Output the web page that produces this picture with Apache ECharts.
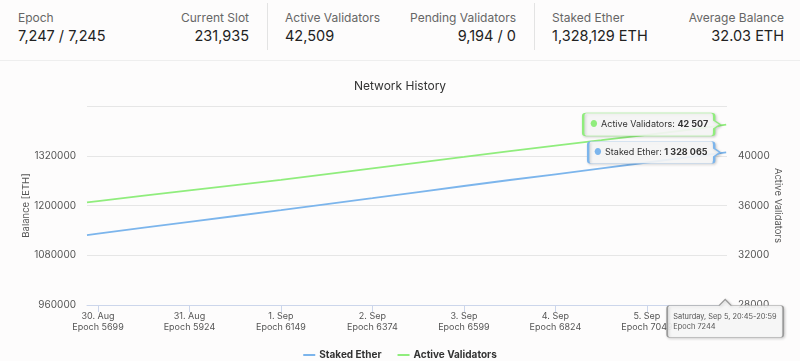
<!DOCTYPE html>
<html>
<head>
<meta charset="utf-8">
<script src="https://cdn.jsdelivr.net/npm/echarts@6/dist/echarts.min.js"></script>
<style>
  html, body { margin: 0; padding: 0; background: #fdfcfc; }
  #wrap { position: relative; width: 800px; height: 361px; overflow: hidden; font-family: Inter, "Noto Sans", sans-serif; }
  #chart { position: absolute; left: 0; top: 0; width: 800px; height: 361px; }
  #header { position: absolute; left: 0; top: 0; width: 800px; height: 60px; border-bottom: 1px solid #eeeeee; background: #fdfcfc; z-index: 2; }
  .stat { position: absolute; top: 10px; }
  .stat .lbl { font-size: 12px; color: #666; line-height: 16px; }
  .stat .val { font-size: 14.5px; color: #222; line-height: 20px; margin-top: 0px; }
  .r { text-align: right; }
  .sep { position: absolute; top: 3px; width: 1px; height: 47px; background: #e3e3e3; }
</style>
</head>
<body>
<div id="wrap">
  <div id="chart"></div>
  <div id="header"></div>
</div>
<script>
// ---- header stats ----
const statLabels = ['Epoch', 'Current Slot', 'Active Validators', 'Pending Validators', 'Staked Ether', 'Average Balance'];
const statValues = ['7,247 / 7,245', '231,935', '42,509', '9,194 / 0', '1,328,129 ETH', '32.03 ETH'];

// ---- chart data ----
const chartTitle = 'Network History';
const epochs = [5672, 5699, 5812, 5924, 6037, 6149, 6262, 6374, 6487, 6599, 6712, 6824, 6937, 7049, 7162, 7244];
const stakedEther = [1128800, 1132200, 1146400, 1160400, 1174700, 1188900, 1203400, 1217600, 1232300, 1247000, 1261500, 1275300, 1289500, 1303700, 1317700, 1328065];
const activeValidators = [36250, 36360, 36790, 37210, 37640, 38060, 38520, 38980, 39450, 39910, 40380, 40820, 41250, 41680, 42120, 42507];
const dayEpochs = [5699, 5924, 6149, 6374, 6599, 6824, 7049];
const dayLabels = ['30. Aug', '31. Aug', '1. Sep', '2. Sep', '3. Sep', '4. Sep', '5. Sep'];
const seriesNames = ['Staked Ether', 'Active Validators'];
const axisNames = ['Balance [ETH]', 'Active Validators'];
const tooltipEpoch = 7244;
const tooltipTime = 'Saturday, Sep 5, 20:45-20:59';
const tooltipValueText = ['1 328 065', '42 507'];

// build header
(function () {
  const h = document.getElementById('header');
  const cols = [
    { x: 18, align: 'l' }, { x: 249, align: 'r' },
    { x: 285, align: 'l' }, { x: 516, align: 'r' },
    { x: 552, align: 'l' }, { x: 784, align: 'r' }
  ];
  cols.forEach((c, i) => {
    const d = document.createElement('div');
    d.className = 'stat' + (c.align === 'r' ? ' r' : '');
    if (c.align === 'r') d.style.right = (800 - c.x) + 'px'; else d.style.left = c.x + 'px';
    d.innerHTML = '<div class="lbl">' + statLabels[i] + '</div><div class="val">' + statValues[i] + '</div>';
    h.appendChild(d);
  });
  [267, 534].forEach(x => {
    const s = document.createElement('div');
    s.className = 'sep';
    s.style.left = x + 'px';
    h.appendChild(s);
  });
})();

const blue = '#7cb5ec';
const green = '#90ed7d';
const font = 'Inter, "Noto Sans", sans-serif';

const chart = echarts.init(document.getElementById('chart'), null, { renderer: 'canvas' });

function callout(w, h, p) {
  const bw = w - p, m = h / 2;
  return 'path://M3,0 H' + (bw - 3) + ' Q' + bw + ',0 ' + bw + ',3 V' + (m - 4) +
    ' L' + w + ',' + m + ' L' + bw + ',' + (m + 4) + ' V' + (h - 3) +
    ' Q' + bw + ',' + h + ' ' + (bw - 3) + ',' + h + ' H3 Q0,' + h + ' 0,' + (h - 3) +
    ' V3 Q0,0 3,0 Z';
}
const headerPath = 'path://M3,6 H52 L58,0 L64,6 H113 Q116,6 116,9 V35 Q116,38 113,38 H3 Q0,38 0,35 V9 Q0,6 3,6 Z';

const tipShadow = { shadowBlur: 3, shadowColor: 'rgba(0,0,0,0.18)', shadowOffsetX: 1, shadowOffsetY: 1 };

function pointLabel(name, valText, color, px) {
  return {
    show: true,
    position: [px, 11.5],
    align: 'left',
    verticalAlign: 'middle',
    formatter: '{d|●} {n|' + name + ': }{b|' + valText + '}',
    rich: {
      d: { color: color, fontSize: 8.5, fontFamily: font },
      n: { color: '#333', fontSize: 9, fontFamily: font },
      b: { color: '#333', fontSize: 9, fontWeight: 'bold', fontFamily: font }
    }
  };
}

const lastIdx = epochs.indexOf(tooltipEpoch);
const plainNum = v => String(v);

chart.setOption({
  animation: false,
  backgroundColor: '#fdfcfc',
  title: {
    text: chartTitle,
    left: 'center',
    top: 75,
    textStyle: { fontFamily: font, fontSize: 12, fontWeight: 'normal', color: '#333' }
  },
  legend: {
    top: 345,
    left: 'center',
    itemGap: 16,
    itemWidth: 12,
    itemHeight: 2,
    icon: 'rect',
    textStyle: { fontFamily: font, fontSize: 10, fontWeight: 'bold', color: '#333', padding: [0, 0, 0, -1] },
    data: seriesNames
  },
  grid: { left: 87, right: 73, top: 106, bottom: 56, containLabel: false },
  xAxis: {
    type: 'value',
    min: 5672,
    max: 7246,
    axisLine: { lineStyle: { color: '#ccd6eb', width: 1 } },
    axisTick: { show: true, length: 7, lineStyle: { color: '#ccd6eb' }, customValues: dayEpochs },
    splitLine: { show: false },
    axisLabel: {
      customValues: dayEpochs,
      margin: 6,
      color: '#555',
      fontFamily: font,
      fontSize: 9,
      lineHeight: 11,
      formatter: function (v) {
        const i = dayEpochs.indexOf(v);
        return i >= 0 ? dayLabels[i] + '\nEpoch ' + v : '';
      }
    }
  },
  yAxis: [
    {
      type: 'value',
      min: 960000, max: 1440000, interval: 120000,
      name: axisNames[0],
      nameLocation: 'middle',
      nameGap: 56,
      nameMoveOverlap: false,
      nameTextStyle: { fontFamily: font, fontSize: 9.5, color: '#555' },
      axisLine: { show: false },
      axisTick: { show: false },
      splitLine: { lineStyle: { color: '#e6e6e6', width: 1 } },
      axisLabel: {
        showMaxLabel: false,
        formatter: plainNum,
        margin: 11,
        color: '#555',
        fontFamily: font,
        fontSize: 10,
        verticalAlign: 'middle',
        padding: [0, 0, 8, 0]
      }
    },
    {
      type: 'value',
      min: 28000, max: 44000, interval: 4000,
      name: axisNames[1],
      nameLocation: 'middle',
      nameGap: 46,
      nameRotate: -90,
      nameMoveOverlap: false,
      nameTextStyle: { fontFamily: font, fontSize: 9.5, color: '#555' },
      axisLine: { show: false },
      axisTick: { show: false },
      splitLine: { show: false },
      axisLabel: {
        showMaxLabel: false,
        formatter: plainNum,
        margin: 11,
        color: '#555',
        fontFamily: font,
        fontSize: 10,
        verticalAlign: 'middle',
        padding: [0, 0, 8, 0]
      }
    }
  ],
  series: [
    {
      name: seriesNames[0],
      type: 'line',
      yAxisIndex: 0,
      showSymbol: false,
      color: blue,
      lineStyle: { width: 1.8, color: blue },
      data: epochs.map((e, i) => [e, stakedEther[i]]),
      z: 3,
      markPoint: {
        silent: true,
        data: [{
          coord: [tooltipEpoch, stakedEther[lastIdx]],
          symbol: callout(132, 22, 6),
          symbolSize: [132, 22],
          symbolOffset: [-72, 0],
          itemStyle: Object.assign({ color: 'rgba(248,248,248,0.9)', borderColor: blue, borderWidth: 1 }, tipShadow),
          label: pointLabel(seriesNames[0], tooltipValueText[0], blue, 7)
        }]
      }
    },
    {
      name: seriesNames[1],
      type: 'line',
      yAxisIndex: 1,
      showSymbol: false,
      color: green,
      lineStyle: { width: 1.8, color: green },
      data: epochs.map((e, i) => [e, activeValidators[i]]),
      z: 2,
      markPoint: {
        silent: true,
        data: [
          {
            coord: [tooltipEpoch, activeValidators[lastIdx]],
            symbol: callout(137, 23, 6),
            symbolSize: [137, 23],
            symbolOffset: [-74.5, 0],
            itemStyle: Object.assign({ color: 'rgba(248,248,248,0.9)', borderColor: green, borderWidth: 1 }, tipShadow),
            label: pointLabel(seriesNames[1], tooltipValueText[1], green, 8)
          },
          {
            coord: [tooltipEpoch, 28000],
            symbol: headerPath,
            symbolSize: [116, 38],
            symbolOffset: [-1, 13.5],
            itemStyle: Object.assign({ color: 'rgba(248,248,248,0.92)', borderColor: '#9a9a9a', borderWidth: 1 }, tipShadow),
            label: {
              show: true,
              position: [7, 12],
              align: 'left',
              verticalAlign: 'top',
              formatter: tooltipTime + '\nEpoch ' + tooltipEpoch,
              color: '#555',
              fontFamily: font,
              fontSize: 7.4,
              lineHeight: 10.5
            }
          }
        ]
      }
    }
  ]
});
</script>
</body>
</html>
